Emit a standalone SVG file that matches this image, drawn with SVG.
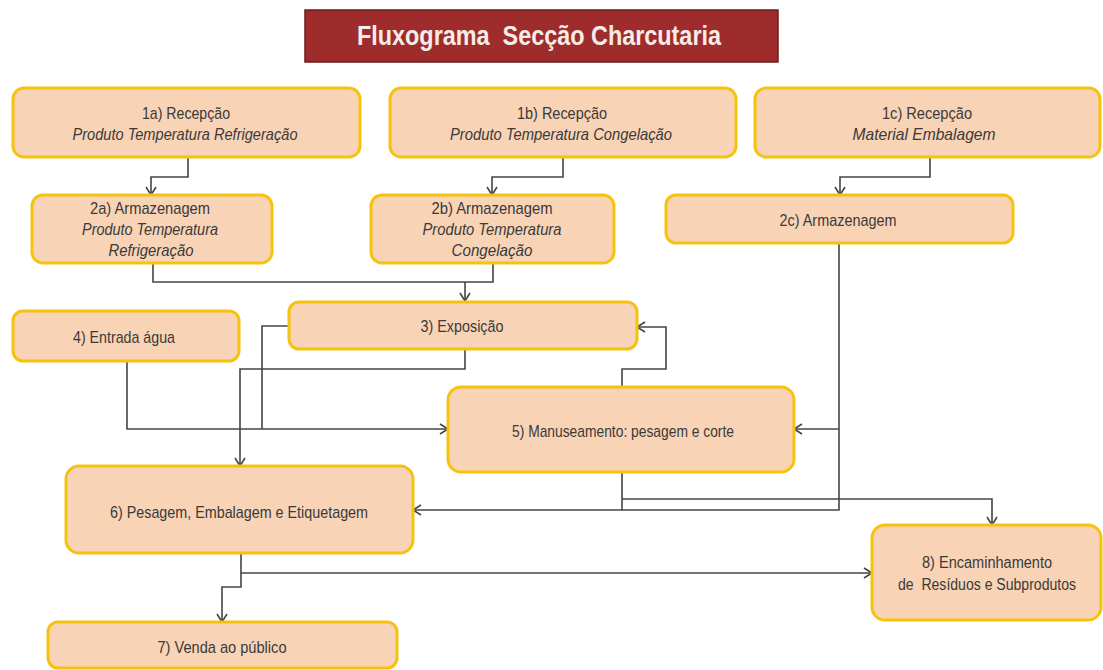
<svg xmlns="http://www.w3.org/2000/svg" width="1103" height="670" viewBox="0 0 1103 670">
  <defs>
    <style>
      .box { fill: #F9D3B5; stroke: #F5C30F; stroke-width: 3; }
      .t { font-family: "Liberation Sans Narrow", "Liberation Sans", Arial, sans-serif; font-size: 17px; fill: #3a3a3a; text-anchor: middle; }
      .s { font-size: 16px; }
      .i { font-style: italic; }
      .title { font-family: "Liberation Sans Narrow", "Liberation Sans", Arial, sans-serif; font-size: 27px; font-weight: bold; fill: #F8ECE8; text-anchor: middle; }
      .c { fill: none; stroke: #454545; stroke-width: 1.6; }
    </style>
    <marker id="arrow" markerUnits="userSpaceOnUse" markerWidth="12" markerHeight="12" refX="9" refY="6" orient="auto">
      <path d="M1,1 L9,6 L1,11" fill="none" stroke="#454545" stroke-width="1.6"/>
    </marker>
  </defs>

  <rect width="1103" height="670" fill="#ffffff"/>

  <!-- title banner -->
  <g id="title">
    <rect x="305" y="10" width="473" height="52" fill="#9E2C2C" stroke="#6E1C1C" stroke-width="1.5"/>
    <text class="title" x="539" y="45" textLength="364" lengthAdjust="spacingAndGlyphs">Fluxograma&#160; Secção Charcutaria</text>
  </g>

  <!-- connectors -->
  <g id="connectors">
    <path class="c" d="M188,157 V177 H151 V195" marker-end="url(#arrow)"/>
    <path class="c" d="M563,157 V177 H492 V195" marker-end="url(#arrow)"/>
    <path class="c" d="M930,157 V177 H840 V195" marker-end="url(#arrow)"/>
    <path class="c" d="M153,263 V282 H493 V263"/>
    <path class="c" d="M465,282 V301" marker-end="url(#arrow)"/>
    <path class="c" d="M465,349 V369 H240 V466" marker-end="url(#arrow)"/>
    <path class="c" d="M289,326 H262 V429"/>
    <path class="c" d="M127,361 V429 H448" marker-end="url(#arrow)"/>
    <path class="c" d="M622,387 V369 H666 V327 H637" marker-end="url(#arrow)"/>
    <path class="c" d="M839,243 V510 H413" marker-end="url(#arrow)"/>
    <path class="c" d="M839,429 H794" marker-end="url(#arrow)"/>
    <path class="c" d="M622,472 V510"/>
    <path class="c" d="M622,499 H992 V525" marker-end="url(#arrow)"/>
    <path class="c" d="M241,553 V573 H872" marker-end="url(#arrow)"/>
    <path class="c" d="M241,573 V587 H222 V622" marker-end="url(#arrow)"/>
  </g>

  <g id="n1a">
    <rect class="box" x="13" y="88" width="347" height="69" rx="11"/>
    <text class="t" x="186" y="119" textLength="88" lengthAdjust="spacingAndGlyphs">1a) Recepção</text>
    <text class="t i" x="185" y="140" textLength="225" lengthAdjust="spacingAndGlyphs">Produto Temperatura Refrigeração</text>
  </g>

  <g id="n1b">
    <rect class="box" x="390" y="88" width="346" height="69" rx="11"/>
    <text class="t" x="562" y="119" textLength="90" lengthAdjust="spacingAndGlyphs">1b) Recepção</text>
    <text class="t i" x="561" y="140" textLength="222" lengthAdjust="spacingAndGlyphs">Produto Temperatura Congelação</text>
  </g>

  <g id="n1c">
    <rect class="box" x="755" y="88" width="345" height="69" rx="11"/>
    <text class="t" x="927" y="119" textLength="90" lengthAdjust="spacingAndGlyphs">1c) Recepção</text>
    <text class="t i" x="924" y="140" textLength="143" lengthAdjust="spacingAndGlyphs">Material Embalagem</text>
  </g>

  <g id="n2a">
    <rect class="box" x="32" y="195" width="240" height="68" rx="11"/>
    <text class="t" x="150" y="214" textLength="120" lengthAdjust="spacingAndGlyphs">2a) Armazenagem</text>
    <text class="t i" x="150" y="235" textLength="136" lengthAdjust="spacingAndGlyphs">Produto Temperatura</text>
    <text class="t i" x="151" y="256" textLength="85" lengthAdjust="spacingAndGlyphs">Refrigeração</text>
  </g>

  <g id="n2b">
    <rect class="box" x="371" y="195" width="243" height="68" rx="11"/>
    <text class="t" x="492" y="214" textLength="121" lengthAdjust="spacingAndGlyphs">2b) Armazenagem</text>
    <text class="t i" x="492" y="235" textLength="139" lengthAdjust="spacingAndGlyphs">Produto Temperatura</text>
    <text class="t i" x="492" y="256" textLength="81" lengthAdjust="spacingAndGlyphs">Congelação</text>
  </g>

  <g id="n2c">
    <rect class="box" x="666" y="195" width="347" height="48" rx="10"/>
    <text class="t" x="838" y="226" textLength="117" lengthAdjust="spacingAndGlyphs">2c) Armazenagem</text>
  </g>

  <g id="n3">
    <rect class="box" x="289" y="302" width="348" height="47" rx="10"/>
    <text class="t" x="462" y="332" textLength="83" lengthAdjust="spacingAndGlyphs">3) Exposição</text>
  </g>

  <g id="n4">
    <rect class="box" x="13" y="311" width="226" height="50" rx="10"/>
    <text class="t" x="124" y="343" textLength="102" lengthAdjust="spacingAndGlyphs">4) Entrada água</text>
  </g>

  <g id="n5">
    <rect class="box" x="448" y="387" width="346" height="85" rx="13"/>
    <text class="t" x="623" y="437" textLength="222" lengthAdjust="spacingAndGlyphs">5) Manuseamento: pesagem e corte</text>
  </g>

  <g id="n6">
    <rect class="box" x="66" y="466" width="347" height="87" rx="13"/>
    <text class="t" x="239" y="518" textLength="258" lengthAdjust="spacingAndGlyphs">6) Pesagem, Embalagem e Etiquetagem</text>
  </g>

  <g id="n7">
    <rect class="box" x="48" y="622" width="349" height="46" rx="10"/>
    <text class="t" x="222" y="653" textLength="129" lengthAdjust="spacingAndGlyphs">7) Venda ao público</text>
  </g>

  <g id="n8">
    <rect class="box" x="872" y="525" width="229" height="95" rx="13"/>
    <text class="t s" x="987" y="568" textLength="130" lengthAdjust="spacingAndGlyphs">8) Encaminhamento</text>
    <text class="t s" x="987" y="590" textLength="178" lengthAdjust="spacingAndGlyphs">de&#160; Resíduos e Subprodutos</text>
  </g>
</svg>
